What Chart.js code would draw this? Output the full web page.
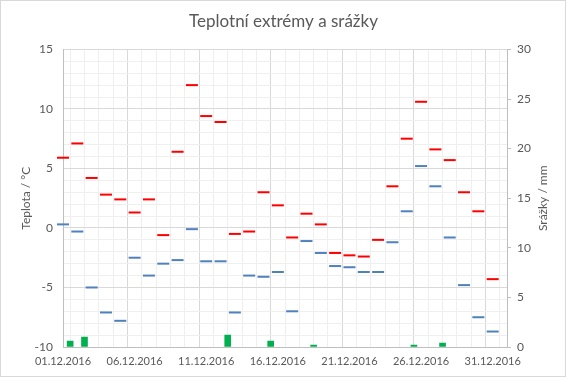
<!DOCTYPE html>
<html>
<head>
<meta charset="utf-8">
<script src="https://cdn.jsdelivr.net/npm/chart.js@4.4.1/dist/chart.umd.min.js"></script>
<style>
html,body{margin:0;padding:0;background:#fff;}
#wrap{width:567px;height:378px;position:relative;}
</style>
</head>
<body>
<div id="wrap"><canvas id="c"></canvas></div>
<script>
const chartTitle = 'Teplotní extrémy a srážky';
const leftAxisTitle = 'Teplota / °C';
const rightAxisTitle = 'Srážky / mm';
const dates = ['01.12.2016','02.12.2016','03.12.2016','04.12.2016','05.12.2016','06.12.2016','07.12.2016','08.12.2016','09.12.2016','10.12.2016',
  '11.12.2016','12.12.2016','13.12.2016','14.12.2016','15.12.2016','16.12.2016','17.12.2016','18.12.2016','19.12.2016','20.12.2016',
  '21.12.2016','22.12.2016','23.12.2016','24.12.2016','25.12.2016','26.12.2016','27.12.2016','28.12.2016','29.12.2016','30.12.2016','31.12.2016'];
const tMax = [5.9, 7.1, 4.2, 2.8, 2.4, 1.3, 2.4, -0.6, 6.4, 12.0, 9.4, 8.9, -0.5, -0.3, 3.0, 1.9, -0.8, 1.2, 0.3, -2.1, -2.3, -2.4, -1.0, 3.5, 7.5, 10.6, 6.6, 5.7, 3.0, 1.4, -4.3];
const tMin = [0.3, -0.3, -5.0, -7.1, -7.8, -2.5, -4.0, -3.0, -2.7, -0.1, -2.8, -2.8, -7.1, -4.0, -4.1, -3.7, -7.0, -1.1, -2.1, -3.2, -3.3, -3.7, -3.7, -1.2, 1.4, 5.2, 3.5, -0.8, -4.8, -7.5, -8.7];
const precip = [0.6, 1.0, 0, 0, 0, 0, 0, 0, 0, 0, 0, 1.2, 0, 0, 0.6, 0, 0, 0.2, 0, 0, 0, 0, 0, 0, 0.2, 0, 0.4, 0, 0, 0, 0];
const labelEvery = 5;

const FONT = 'Lato, "Open Sans", sans-serif';
const TXT = '#595959';
const gridColor = (ctx) => (ctx.tick && Math.round(ctx.tick.value) % 5 === 0) ? '#d9d9d9' : '#efefef';

const maxPts = tMax.map((v, i) => ({x: i, y: v}));
const minPts = tMin.map((v, i) => ({x: i, y: v}));
const barPts = precip.map((v, i) => ({x: i + 0.5, y: v > 0 ? v : null}));

const extras = {
  id: 'extras',
  afterDraw(chart) {
    const ctx = chart.ctx;
    const a = chart.chartArea;
    ctx.save();
    ctx.fillStyle = TXT;
    ctx.font = '12px ' + FONT;
    ctx.textAlign = 'center';
    ctx.textBaseline = 'middle';
    ctx.translate(543, (a.top + a.bottom) / 2);
    ctx.rotate(-Math.PI / 2);
    ctx.fillText(rightAxisTitle, 0, 0);
    ctx.restore();
    ctx.save();
    ctx.strokeStyle = '#d9d9d9';
    ctx.lineWidth = 1;
    ctx.strokeRect(0.5, 0.5, 565, 376);
    ctx.restore();
  }
};

new Chart(document.getElementById('c'), {
  type: 'bar',
  data: {
    datasets: [
      {type: 'line', label: 'max', data: maxPts, showLine: false, pointStyle: 'line', pointRadius: 6, pointHoverRadius: 6, clip: false,
       borderColor: '#ff0000', pointBorderWidth: 2, borderWidth: 2, yAxisID: 'y', xAxisID: 'x', order: 1},
      {type: 'line', label: 'min', data: minPts, showLine: false, pointStyle: 'line', pointRadius: 6, pointHoverRadius: 6, clip: false,
       borderColor: '#4f81bd', pointBorderWidth: 2, borderWidth: 2, yAxisID: 'y', xAxisID: 'x', order: 2},
      {type: 'bar', label: 'srážky', data: barPts, backgroundColor: '#00b050', barThickness: 6, borderWidth: 0, yAxisID: 'y2', xAxisID: 'x', order: 3}
    ]
  },
  options: {
    responsive: true,
    maintainAspectRatio: false,
    animation: false,
    devicePixelRatio: 1,
    layout: {padding: {left: 0, right: 0, top: 0, bottom: 0}},
    plugins: {
      legend: {display: false},
      tooltip: {enabled: false},
      title: {display: true, text: chartTitle, color: TXT, font: {family: FONT, size: 17, weight: 'normal'}, padding: {top: 11, bottom: 18}}
    },
    scales: {
      x: {
        type: 'linear', min: 0, max: 31, offset: false,
        afterFit(s) { s.height = 31; },
        ticks: {stepSize: 1, autoSkip: false, maxRotation: 0, minRotation: 0, color: TXT, padding: 8,
          font: {family: FONT, size: 11},
          callback: (v) => (v % labelEvery === 0 && dates[v]) ? dates[v] : ''},
        grid: {color: gridColor, drawTicks: false},
        border: {color: '#bfbfbf'}
      },
      y: {
        position: 'left', min: -10, max: 15,
        afterFit(s) { s.width = 63; },
        ticks: {stepSize: 1, autoSkip: false, color: TXT, padding: 10, font: {family: FONT, size: 12},
          callback: (v) => (Math.round(v) % 5 === 0) ? String(v) : ''},
        grid: {color: gridColor, drawTicks: false},
        border: {color: '#bfbfbf'},
        title: {display: true, text: leftAxisTitle, color: TXT, font: {family: FONT, size: 12}, padding: {top: 19, bottom: 0}}
      },
      y2: {
        position: 'right', min: 0, max: 30,
        afterFit(s) { s.width = 60; },
        ticks: {stepSize: 5, color: TXT, padding: 6, font: {family: FONT, size: 12}},
        grid: {drawOnChartArea: false, drawTicks: true, tickLength: 4, color: '#bfbfbf'},
        border: {color: '#bfbfbf'}
      }
    }
  },
  plugins: [extras]
});
</script>
</body>
</html>
